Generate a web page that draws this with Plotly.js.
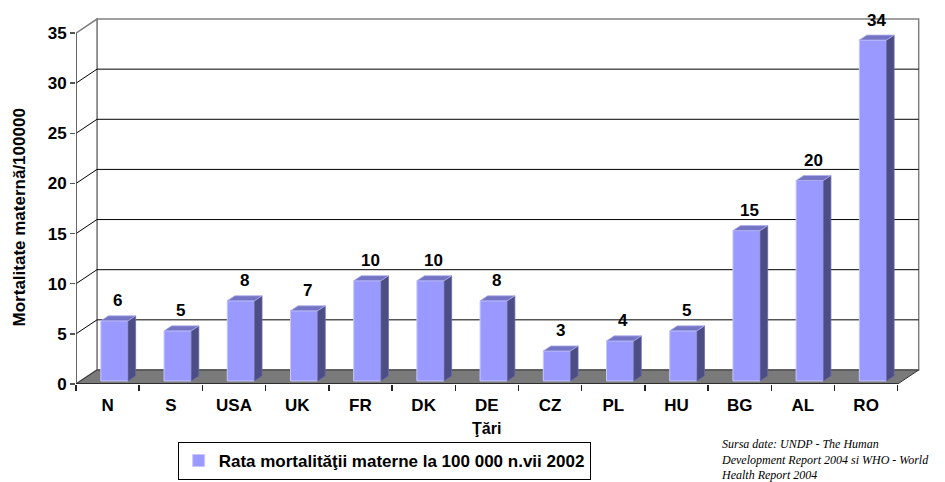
<!DOCTYPE html>
<html>
<head>
<meta charset="utf-8">
<script src="https://cdn.plot.ly/plotly-3.0.1.min.js"></script>
<style>html,body{margin:0;padding:0;background:#fff;}#chart{width:945px;height:482px;}</style>
</head>
<body>
<div id="chart"></div>
<script>
// ---- data ----
const categories = ['N','S','USA','UK','FR','DK','DE','CZ','PL','HU','BG','AL','RO'];
const values = [6,5,8,7,10,10,8,3,4,5,15,20,34];
const yTicks = [0,5,10,15,20,25,30,35];
const seriesName = 'Rata mortalităţii materne la 100 000 n.vii 2002';
const yTitle = 'Mortalitate maternă/100000';
const xTitle = 'Ţări';
const sourceText = 'Sursa date: UNDP - The Human<br>Development Report 2004 si WHO - World<br>Health Report 2004';

// ---- 3D geometry (in axis units) ----
const XMIN = -0.5, XMAX = categories.length - 0.5, YTOP = 35;
const DX = 0.332, DY = 1.4;          // depth of the chart box
const BASE = 0.3, BW = 0.43, BOFF = -0.107; // bar placement
const BDX = 0.12, BDY = 0.5;         // bar depth

const idx = categories.map((c, i) => i);

// side and top faces computed from values
const sideX = [], sideY = [], topX = [], topY = [];
values.forEach((v, i) => {
  const L = i + BOFF, R = L + BW, t = BASE + v;
  sideX.push(R, R, R + BDX, R + BDX, R, null);
  sideY.push(BASE, t, t + BDY, BASE + BDY, BASE, null);
  topX.push(L, R, R + BDX, L + BDX, L, null);
  topY.push(t, t, t + BDY, t + BDY, t, null);
});

const FONT = 'Liberation Sans, Arial, sans-serif';

const traces = [
  {
    type: 'bar', x: idx, y: values, base: BASE, width: BW, offset: BOFF,
    name: seriesName, showlegend: true,
    marker: {color: '#9999FF', line: {color: '#C8C8FF', width: 1}},
    hoverinfo: 'y'
  },
  {
    type: 'scatter', x: sideX, y: sideY, mode: 'lines', fill: 'toself',
    fillcolor: '#4D4D85', line: {color: '#6A6AA8', width: 0.8},
    showlegend: false, hoverinfo: 'skip'
  },
  {
    type: 'scatter', x: topX, y: topY, mode: 'lines', fill: 'toself',
    fillcolor: '#7474C4', line: {color: '#B0B0F0', width: 0.8},
    showlegend: false, hoverinfo: 'skip'
  }
];

// ---- frame shapes ----
const shapes = [];
shapes.push({type: 'rect', layer: 'below', x0: XMIN + DX, x1: XMAX + DX, y0: DY, y1: YTOP + DY,
  line: {color: '#808080', width: 1.5}, fillcolor: '#FFFFFF'});
shapes.push({type: 'path', layer: 'below',
  path: `M ${XMIN} 0 L ${XMIN} ${YTOP} L ${XMIN + DX} ${YTOP + DY} L ${XMIN + DX} ${DY} Z`,
  line: {color: '#808080', width: 1.5}, fillcolor: '#FFFFFF'});
yTicks.filter(v => v > 0 && v < YTOP).forEach(v => {
  shapes.push({type: 'path', layer: 'below',
    path: `M ${XMIN} ${v} L ${XMIN + DX} ${v + DY} L ${XMAX + DX} ${v + DY}`,
    line: {color: '#000000', width: 1}});
});
shapes.push({type: 'path', layer: 'below',
  path: `M ${XMIN} 0 L ${XMAX} 0 L ${XMAX + DX} ${DY} L ${XMIN + DX} ${DY} Z`,
  line: {color: '#333333', width: 1}, fillcolor: '#7A7A7A'});
shapes.push({type: 'line', layer: 'above', x0: XMIN, x1: XMIN, y0: 0, y1: YTOP,
  line: {color: '#555555', width: 1.5}});
shapes.push({type: 'line', layer: 'above', x0: XMIN, x1: XMAX, y0: 0, y1: 0,
  line: {color: '#222222', width: 1.5}});

// ---- annotations ----
const annotations = values.map((v, i) => ({
  x: i + 0.16, y: BASE + v, text: String(v), showarrow: false,
  yanchor: 'middle', yshift: 20,
  font: {family: FONT, size: 17, color: '#000', weight: 'bold'}
}));
annotations.push({
  xref: 'x', yref: 'paper', x: (XMIN + XMAX) / 2, y: 0, yshift: -44, yanchor: 'middle',
  text: xTitle, showarrow: false,
  font: {family: FONT, size: 16, color: '#000', weight: 'bold'}
});
annotations.push({
  xref: 'paper', yref: 'paper', x: 0, xshift: -57, y: 0.449, textangle: -90,
  xanchor: 'center', yanchor: 'middle',
  text: yTitle, showarrow: false,
  font: {family: FONT, size: 17, color: '#000', weight: 'bold'}
});
annotations.push({
  xref: 'paper', yref: 'paper', x: 0.7592, y: -0.1375, xanchor: 'left', yanchor: 'top',
  align: 'left', text: sourceText, showarrow: false,
  font: {family: 'Liberation Serif, Times New Roman, serif', size: 12, color: '#000', style: 'italic'}
});

const layout = {
  width: 945, height: 482,
  margin: {l: 76, r: 22, t: 13, b: 98, autoexpand: false},
  paper_bgcolor: '#FFFFFF', plot_bgcolor: '#FFFFFF',
  showlegend: true,
  legend: {
    xref: 'container', yref: 'container',
    x: 0.188, xanchor: 'left', y: 1 - 442 / 482, yanchor: 'top',
    bordercolor: '#000000', borderwidth: 1, bgcolor: '#FFFFFF',
    font: {family: FONT, size: 17, color: '#000', weight: 'bold'},
    itemwidth: 30, tracegroupgap: 0
  },
  xaxis: {
    range: [XMIN, XMAX + 0.4], tickvals: idx, ticktext: categories,
    ticks: '', showgrid: false, zeroline: false, showline: false,
    ticklabelstandoff: 9,
    tickfont: {family: FONT, size: 17, color: '#000', weight: 'bold'},
    fixedrange: true
  },
  xaxis2: {
    overlaying: 'x', anchor: 'y', side: 'bottom', matches: 'x',
    tickvals: idx.concat([categories.length]).map(i => i - 0.5),
    ticks: 'outside', ticklen: 6, tickcolor: '#222', tickwidth: 1.5,
    showticklabels: false, showgrid: false, zeroline: false, showline: false
  },
  yaxis: {
    range: [0, 37], tickvals: yTicks, ticks: 'outside', ticklen: 5,
    tickcolor: '#555', tickwidth: 1.5,
    showgrid: false, zeroline: false, showline: false,
    tickfont: {family: FONT, size: 17, color: '#000', weight: 'bold'},
    fixedrange: true
  },
  shapes: shapes,
  annotations: annotations,
  bargap: 0
};

traces.push({type: 'scatter', x: [XMIN], y: [0], xaxis: 'x2', yaxis: 'y', mode: 'markers',
  marker: {opacity: 0}, showlegend: false, hoverinfo: 'skip'});

Plotly.newPlot('chart', traces, layout, {displayModeBar: false, staticPlot: true});
</script>
</body>
</html>
